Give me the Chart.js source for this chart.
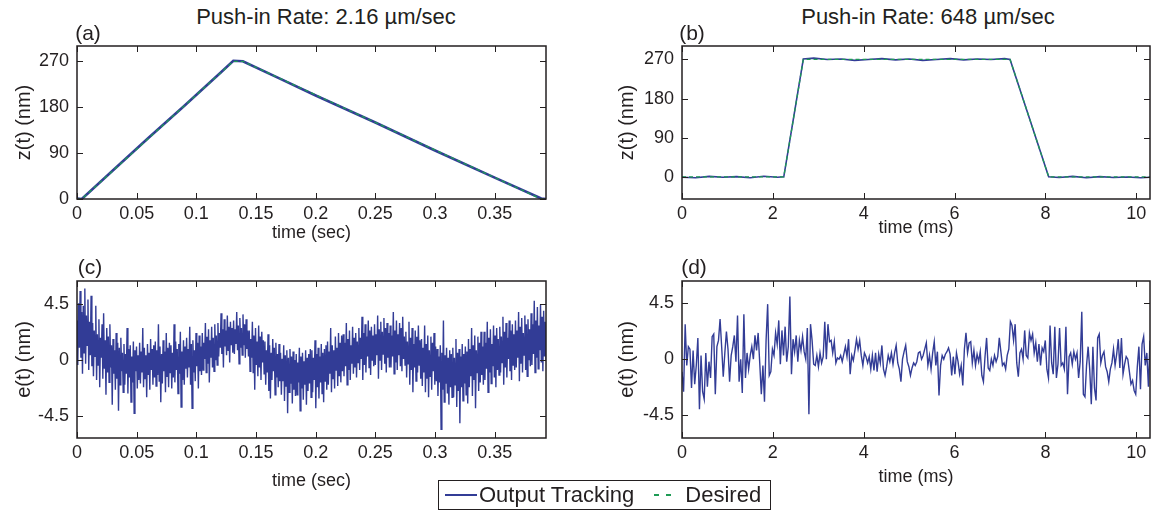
<!DOCTYPE html>
<html>
<head>
<meta charset="utf-8">
<script src="https://cdn.jsdelivr.net/npm/chart.js@4"></script>
<style>
  body { margin: 0; background: #fff; }
  #page { position: relative; width: 1163px; height: 514px; overflow: hidden; font-family: 'Liberation Sans', Arial, sans-serif; color: #231f20; }
  .box { position: absolute; }
  .lbl { position: absolute; transform: translate(-50%, -50%); white-space: nowrap; line-height: 1; }
  .title { font-size: 22px; }
  .tag { font-size: 21px; }
  #legend { position: absolute; left: 438px; top: 480px; width: 333px; height: 30px; box-sizing: border-box;
            border: 1.5px solid #231f20; display: flex; align-items: center; font-size: 22px; }
  #legend .ln { display: inline-block; width: 32px; height: 1.5px; margin: 0 2px 0 6px; }
  #legend .solid { background: #323c96; }
  #legend .dash { width: 22px; margin: 0 9px 0 20px; background: repeating-linear-gradient(to right, #1e9b55 0 5px, transparent 5px 12px); }
</style>
</head>
<body>
<div id="page">
  <div class="box" style="left:7px; top:40px;"><canvas id="chartA" width="553" height="204"></canvas></div>
  <div class="box" style="left:612px; top:40px;"><canvas id="chartB" width="550" height="199"></canvas></div>
  <div class="box" style="left:7px; top:275px;"><canvas id="chartC" width="553" height="217"></canvas></div>
  <div class="box" style="left:612px; top:275px;"><canvas id="chartD" width="550" height="213"></canvas></div>

  <div class="lbl title" style="left:326px; top:17px;">Push-in Rate: 2.16 µm/sec</div>
  <div class="lbl title" style="left:928px; top:17px;">Push-in Rate: 648 µm/sec</div>
  <div class="lbl tag" style="left:88px; top:32px;">(a)</div>
  <div class="lbl tag" style="left:692px; top:32px;">(b)</div>
  <div class="lbl tag" style="left:90px; top:266px;">(c)</div>
  <div class="lbl tag" style="left:694px; top:266px;">(d)</div>

  <div id="legend">
    <span class="ln solid"></span><span>Output Tracking</span>
    <span class="ln dash"></span><span>Desired</span>
  </div>
</div>

<script>
// --- Data ---

// (a) slow push-in: z(t) in nm against time in sec
const aDesiredTime = [0, 0.004, 0.131, 0.139, 0.389, 0.393];
const aDesired = [0, 0, 270, 270, 0, 0];
const aOutputTime = [0, 0.004, 0.03, 0.06, 0.09, 0.12, 0.131, 0.139, 0.17, 0.2, 0.25, 0.3, 0.35, 0.389, 0.393];
const aOutput = [1, 0, 56, 120, 183, 247, 271, 270, 236, 203, 150, 95, 42, 1, 0];

// (b) fast push-in: z(t) in nm against time in ms
const bDesiredTime = [0, 2.24, 2.67, 7.22, 8.07, 10.3];
const bDesired = [0, 0, 270, 270, 0, 0];
const bOutputTime = [0, 0.3, 0.6, 0.9, 1.2, 1.5, 1.8, 2.1, 2.24, 2.67, 2.9, 3.2, 3.5, 3.8, 4.1, 4.4, 4.7, 5.0, 5.3,
                     5.6, 5.9, 6.2, 6.5, 6.8, 7.1, 7.22, 8.07, 8.3, 8.6, 8.9, 9.2, 9.5, 9.8, 10.1, 10.3];
const bOutput = [-1, -2, 1, -1, 0.5, -2, 1.5, -1, 0, 271, 273, 270, 271, 268, 270, 272, 269, 271, 268,
                 270, 272, 269, 271, 270, 272, 270, 0, -1.5, 1, -2, 0.5, -1.5, -0.5, -2, -1];

// (c) tracking error e(t) in nm, slow run, sampled evenly over 0 .. cEnd sec
const cEnd = 0.393;
const cError = [
  3.2, -0.4, 4.6, 1.0, 5.6, 0.2, 3.9, -1.1, 4.4, 0.6, 5.8, -0.3, 3.6, 1.2, 4.9, -0.8, 3.1, 0.4, 5.2, -0.5,
  3.0, -1.3, 2.4, 0.3, 4.4, -1.6, 2.1, -0.4, 3.3, -2.2, 1.8, 0.2, 2.9, -1.5, 3.8, -0.7, 1.6, -2.8, 2.6, -1.0,
  1.9, -1.8, 2.9, -0.6, 1.2, -3.6, 1.7, -1.1, 0.8, -2.4, 2.2, -1.5, 1.4, -4.1, 1.0, -2.0, 1.8, -0.9, 0.6, -2.6,
  1.3, -2.0, 0.5, -1.1, 2.6, -2.7, 0.9, -1.4, 1.2, -3.4, 0.3, -1.8, 1.5, -4.3, 0.8, -0.9, 1.1, -2.3, 0.4, -1.6,
  1.4, -1.9, 0.7, -1.0, 2.6, -2.2, 1.0, -1.5, 0.4, -3.0, 1.3, -1.2, 0.6, -2.4, 1.7, -0.8, 0.9, -2.0, 1.2, -1.4,
  1.5, -2.1, 0.8, -1.2, 2.9, -1.7, 1.1, -3.4, 0.5, -1.9, 1.6, -0.9, 0.7, -2.6, 2.2, -1.3, 1.0, -2.2, 1.4, -1.0,
  1.2, -2.3, 0.6, -1.4, 2.9, -1.8, 1.5, -0.8, 0.9, -2.7, 1.3, -1.1, 2.3, -3.8, 0.7, -1.6, 1.6, -2.0, 1.1, -0.7,
  1.8, -1.4, 0.9, -0.6, 2.7, -2.0, 1.3, -3.9, 1.6, -1.0, 0.8, -1.7, 2.2, -0.5, 1.4, -2.3, 2.0, -0.9, 1.1, -1.2,
  2.2, -0.8, 1.4, 0.1, 3.0, -1.0, 1.9, -0.3, 2.5, -1.8, 1.6, 0.2, 2.7, -0.6, 1.8, -0.9, 2.9, 0.0, 2.0, -0.4,
  3.0, 0.3, 2.2, 1.0, 3.8, 0.5, 2.5, -0.6, 3.3, 1.1, 2.4, 0.4, 3.6, 0.8, 2.7, -0.2, 3.1, 1.2, 2.6, 0.6,
  3.2, 0.5, 2.5, 1.3, 3.9, 0.8, 2.8, -0.3, 3.4, 1.0, 2.6, 0.4, 3.7, 1.2, 2.9, 0.2, 3.3, 0.9, 2.4, 0.3,
  2.4, -0.9, 1.7, 0.2, 3.1, -1.0, 2.0, -2.4, 2.6, -0.4, 1.5, -1.3, 2.8, -0.6, 1.9, -1.6, 2.3, -0.2, 1.6, -1.1,
  1.5, -2.0, 0.8, -1.0, 2.1, -2.5, 1.2, -3.1, 0.6, -1.6, 1.7, -0.9, 1.0, -2.8, 1.4, -1.4, 0.5, -2.2, 1.3, -1.7,
  0.6, -2.8, 0.1, -1.7, 1.2, -3.3, 0.4, -2.1, 0.8, -4.3, 0.2, -2.6, 0.9, -1.9, 0.3, -3.5, 0.7, -2.4, 0.0, -2.9,
  0.5, -2.8, -0.2, -1.8, 1.0, -4.1, 0.3, -2.3, 0.6, -3.2, -0.1, -2.0, 0.8, -3.6, 0.2, -2.5, 0.5, -1.9, 0.9, -3.0,
  0.8, -2.6, 0.2, -1.6, 1.6, -3.9, 0.5, -2.2, 1.0, -3.1, 0.3, -1.8, 1.3, -2.7, 0.6, -3.4, 0.9, -1.7, 1.2, -2.4,
  1.5, -2.0, 0.7, -1.1, 2.6, -2.6, 1.2, -1.5, 0.8, -2.3, 1.9, -0.8, 1.0, -2.1, 2.2, -1.3, 1.4, -1.8, 2.0, -0.9,
  2.1, -1.3, 1.4, -0.5, 3.0, -2.0, 1.7, -0.8, 2.4, -1.6, 1.2, -0.3, 2.7, -1.1, 1.8, -0.6, 2.2, -1.4, 1.5, -0.2,
  2.6, -0.8, 1.8, 0.1, 3.5, -1.6, 2.2, -0.4, 2.9, -1.0, 1.9, 0.3, 3.2, -0.6, 2.4, -1.2, 2.7, 0.0, 2.0, -0.5,
  2.9, -0.4, 2.1, 0.4, 3.6, -1.5, 2.5, 0.0, 3.1, -0.8, 2.3, 0.5, 3.4, -0.3, 2.6, -1.0, 3.0, 0.2, 2.2, -0.6,
  2.8, -0.6, 2.0, 0.3, 3.9, -1.1, 2.4, -0.2, 3.2, -0.8, 2.1, 0.4, 3.0, -0.5, 2.6, -0.9, 3.5, 0.1, 1.9, -0.4,
  2.3, -1.4, 1.5, -0.3, 3.1, -2.0, 1.8, -0.8, 2.6, -2.6, 1.3, -0.6, 2.4, -1.7, 1.9, -1.0, 2.8, -0.4, 1.6, -1.5,
  1.7, -2.1, 1.0, -1.0, 2.8, -2.6, 1.3, -1.5, 2.0, -3.0, 0.8, -1.3, 1.9, -2.4, 1.4, -0.9, 2.2, -2.0, 1.1, -1.7,
  0.9, -2.9, 0.3, -1.8, 1.2, -5.6, 0.6, -2.4, 3.2, -3.4, 0.4, -1.9, 1.0, -2.7, 0.2, -3.6, 0.8, -2.2, 0.5, -3.0,
  1.0, -3.0, 0.2, -2.0, 1.7, -3.8, 0.6, -2.5, 0.9, -5.1, 0.3, -2.2, 1.3, -3.3, 0.5, -1.9, 1.1, -2.8, 0.7, -3.5,
  1.7, -2.2, 0.9, -1.3, 2.6, -2.9, 1.2, -1.6, 2.0, -3.9, 0.8, -1.0, 1.9, -2.5, 1.4, -1.8, 2.3, -1.2, 1.1, -2.0,
  2.3, -1.6, 1.4, -0.7, 3.1, -2.6, 1.8, -1.0, 2.5, -1.9, 1.3, -0.5, 2.8, -1.4, 2.0, -2.2, 2.6, -0.8, 1.7, -1.2,
  2.7, -1.0, 1.9, -0.2, 3.5, -2.0, 2.3, -0.6, 3.0, -1.4, 1.8, 0.1, 3.2, -0.9, 2.4, -1.6, 2.9, -0.4, 2.1, -0.8,
  3.2, -0.6, 2.4, 0.2, 3.9, -1.7, 2.7, -0.3, 3.4, -1.0, 2.2, 0.4, 3.6, -0.8, 2.9, -1.3, 3.3, 0.0, 2.5, -0.5,
  3.8, -0.4, 2.9, 0.5, 4.8, -1.0, 3.2, 0.2, 4.3, -0.7, 2.8, 0.8, 4.5, -0.2, 3.5, -0.9, 4.0, 0.3, 3.1, -0.1
];

// (d) tracking error e(t) in nm, fast run, sampled evenly over 0 .. dEnd ms
const dEnd = 10.3;
const dError = [
  -1.0, -2.6, 2.8, -0.5, 1.0, 0.8, -2.3, 0.7, -2.0, -0.5,
  1.7, -4.0, 0.3, -2.6, -3.2, 0.5, -2.2, -0.2, -1.5, 1.8,
  2.0, -2.8, 1.0, 1.5, 3.2, 1.0, -1.4, 0.5, 2.2, 0.8,
  -1.8, 0.3, 1.0, 1.9, -0.2, 3.5, -1.8, 0.0, -2.7, 3.6,
  -1.5, 0.5, -0.8, 0.3, 1.0, 0.0, 1.9, 0.7, 2.1, -0.3,
  -2.8, -0.5, -3.4, 1.5, 4.4, -1.3, -1.0, 0.8, 0.3, 2.1,
  1.2, 3.1, -0.4, 2.3, 0.3, 2.6, -0.2, 1.0, 5.0, -1.2,
  1.6, 0.6, 1.9, -0.2, 1.5, 0.7, 1.8, 0.6, 0.0, 2.5,
  -4.4, 2.8, 1.5, -0.4, -0.5, 0.3, -0.6, 0.5, -0.3, 0.2,
  3.0, 0.0, 2.8, 1.4, 1.5, 0.5, 1.4, -0.3, 0.1, 0.0,
  0.3, -0.2, 0.4, 1.0, 0.2, 1.6, -1.2, 0.3, -0.1, 0.7,
  1.6, 0.8, 1.5, 0.3, -0.5, 0.5, 0.2, -0.3,
  0.2, -0.8, 0.3, -0.9, 0.5, -1.0, 0.4, -0.3, 1.1, -0.8,
  -1.3, -0.6, 0.3, -0.2, 0.5, -0.4, 0.5, 1.1, -0.3, -0.8,
  -1.8, 0.0, 0.6, 1.1, -0.2, -0.6, -1.3, -0.7, -0.3, -0.5,
  -0.2, 0.5, 0.6, 0.0,
  0.3, 0.8, 1.3, -0.5, 0.3, -0.8, 0.5, 1.4, -0.5, 0.6,
  -2.9, -0.5, 0.3, 0.0, 0.4, 0.6, 0.9, 0.4, -1.3, 0.2,
  -1.2, 0.5, -0.2, -1.2, -0.5, -2.1, 0.8, 2.1, 0.5, 1.3,
  1.4, -0.3, 0.7, -0.5, 0.4, -0.2, 0.6, -1.3, -1.8, 0.2,
  1.7, -0.7, -0.9, 0.0, -0.5, 0.3, -0.2, 0.2, 1.7, 0.6,
  -0.5, -0.3, -0.8, 0.3, 0.8, 3.0, 2.7, 1.5, 2.8, -0.3,
  -1.4, 0.5, 0.8, 0.0, 2.3, 0.3, 0.1, 2.1, 1.5, 2.0,
  0.5, 1.3, -0.2, 1.2, -0.5, 0.9, 0.6, 1.5, -0.8, -1.5,
  2.7, -0.3, -1.2, 2.6, -1.5, -0.4, 2.5, -0.5, -0.3, -0.8,
  2.6, -2.8, 0.2, 0.5, -0.4, 0.6, 0.0, 0.5, -1.5, -0.2,
  3.8, -2.8, -3.0, -0.5, 1.0, -0.8, -3.6, 1.0, -2.3, -3.3,
  1.7, 2.0, -0.3, 0.3, 0.6, -0.6, -1.0, -1.8, -0.8, -0.3,
  0.8, -0.5, 0.4, 1.6, -0.7, 1.7, -1.2, -0.4, 0.2, 0.0,
  -1.0, -2.0, -1.7, -2.5, -2.8, -0.6, 1.0, -2.4, 1.2, 1.8,
  -0.5, 0.5, -2.2, 1.5
];

// Axis ticks
const secTicks = [0, 0.05, 0.1, 0.15, 0.2, 0.25, 0.3, 0.35];
const msTicks = [0, 2, 4, 6, 8, 10];
const zTicks = [0, 90, 180, 270];
const eTicks = [-4.5, 0, 4.5];

// --- Styling ---
const BLUE = '#323c96';
const GREEN = '#1e9b55';
const INK = '#231f20';

Chart.defaults.font.family = "'Liberation Sans', Arial, sans-serif";
Chart.defaults.font.size = 18;
Chart.defaults.color = INK;

function pairs(xs, ys) {
    return ys.map((y, i) => ({ x: xs[i], y }));
}

function evenPairs(end, ys) {
    const step = end / (ys.length - 1);
    return ys.map((y, i) => ({ x: i * step, y }));
}

// Box round the plot with MATLAB-style inward ticks on all four sides
const frameTicks = {
    id: 'frameTicks',
    afterDatasetsDraw(chart) {
        const { ctx, chartArea: a, scales: { x, y } } = chart;
        const len = 6;
        ctx.save();
        ctx.strokeStyle = INK;
        ctx.lineWidth = 1.5;
        ctx.strokeRect(a.left, a.top, a.right - a.left, a.bottom - a.top);
        ctx.lineWidth = 1;
        ctx.beginPath();
        x.ticks.forEach(t => {
            const px = Math.round(x.getPixelForValue(t.value)) + 0.5;
            ctx.moveTo(px, a.bottom); ctx.lineTo(px, a.bottom - len);
            ctx.moveTo(px, a.top); ctx.lineTo(px, a.top + len);
        });
        y.ticks.forEach(t => {
            const py = Math.round(y.getPixelForValue(t.value)) + 0.5;
            ctx.moveTo(a.left, py); ctx.lineTo(a.left + len, py);
            ctx.moveTo(a.right, py); ctx.lineTo(a.right - len, py);
        });
        ctx.stroke();
        ctx.restore();
    }
};

function panel(id, datasets, xr, xTicks, xTitle, xHeight, yr, yTicks, yTitle, rightPad, yTitlePad) {
    return new Chart(document.getElementById(id), {
        type: 'line',
        data: { datasets },
        options: {
            responsive: false,
            animation: false,
            layout: { padding: { top: 6, right: rightPad, bottom: 0, left: 0 } },
            plugins: { legend: { display: false }, tooltip: { enabled: false } },
            elements: { point: { radius: 0 }, line: { tension: 0 } },
            scales: {
                x: {
                    type: 'linear', min: xr[0], max: xr[1],
                    grid: { display: false, drawTicks: false },
                    border: { display: false },
                    afterBuildTicks: s => { s.ticks = xTicks.map(v => ({ value: v })); },
                    afterFit: s => { s.height = xHeight; s.paddingLeft = 0; s.paddingRight = 0; },
                    ticks: { padding: 4, maxRotation: 0, autoSkip: false, callback: v => String(v) },
                    title: { display: true, text: xTitle, font: { size: 18 }, padding: { top: 0, bottom: 0 } }
                },
                y: {
                    min: yr[0], max: yr[1],
                    grid: { display: false, drawTicks: false },
                    border: { display: false },
                    afterBuildTicks: s => { s.ticks = yTicks.map(v => ({ value: v })); },
                    afterFit: s => { s.width = 70; s.paddingTop = 0; s.paddingBottom = 0; },
                    ticks: { padding: 8, callback: v => String(v) },
                    title: { display: true, text: yTitle, font: { size: 20 }, padding: { top: yTitlePad, bottom: 0 } }
                }
            }
        },
        plugins: [frameTicks]
    });
}

function desiredSet(data) {
    return { data, borderColor: GREEN, borderWidth: 1.3, borderDash: [4, 3], fill: false };
}
function outputSet(data, width) {
    return { data, borderColor: BLUE, borderWidth: width, fill: false };
}

panel('chartA',
    [desiredSet(pairs(aDesiredTime, aDesired)), outputSet(pairs(aOutputTime, aOutput), 2.6)],
    [0, 0.393], secTicks, 'time (sec)', 45, [0, 300], zTicks, 'z(t) (nm)', 14, 5);

panel('chartB',
    [desiredSet(pairs(bDesiredTime, bDesired)), outputSet(pairs(bOutputTime, bOutput), 1.6)],
    [0, 10.3], msTicks, 'time (ms)', 40, [-51, 301], zTicks, 'z(t) (nm)', 12, 3);

panel('chartC',
    [outputSet(evenPairs(cEnd, cError), 1.4)],
    [0, 0.393], secTicks, 'time (sec)', 54, [-6.3, 6.4], eTicks, 'e(t) (nm)', 14, 5);

panel('chartD',
    [outputSet(evenPairs(dEnd, dError), 1.4)],
    [0, 10.3], msTicks, 'time (ms)', 50, [-6.3, 6.25], eTicks, 'e(t) (nm)', 12, 3);
</script>
</body>
</html>
